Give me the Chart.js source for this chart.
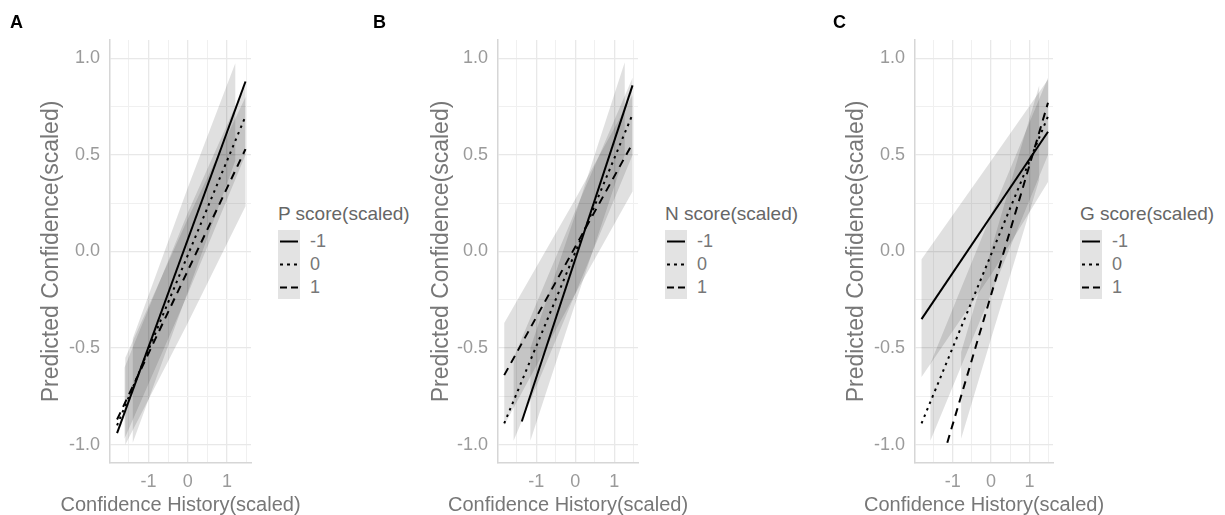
<!DOCTYPE html>
<html>
<head>
<meta charset="utf-8">
<title>Predicted confidence by score</title>
<script src="https://cdn.jsdelivr.net/npm/chart.js@4.4.1/dist/chart.umd.min.js"></script>
<style>
  body { margin: 0; background: #fff; font-family: "Liberation Sans", Arial, sans-serif; }
  #wrap { position: relative; width: 1225px; height: 515px; overflow: hidden; }
  .panel { position: absolute; top: 0; }
  .tag { position: absolute; top: 13px; font-size: 18px; line-height: 18px; font-weight: bold; color: #000; }
  .xt { position: absolute; top: 493px; width: 320px; text-align: center; font-size: 20px; line-height: 22px; color: #777; white-space: nowrap; }
  .legend { position: absolute; top: 203px; }
  .legend .ttl { font-size: 19px; line-height: 22px; color: #666; white-space: nowrap; }
  .legend .keys { margin-top: 5px; }
  .key { display: flex; align-items: center; height: 23px; }
  .key svg { display: block; background: #e3e3e3; }
  .key span { margin-left: 10px; font-size: 18px; color: #777; }
</style>
</head>
<body>
<div id="wrap"></div>
<script>
// axes
const xTicks = [-1.5, -1, -0.5, 0, 0.5, 1, 1.5];
const xLabels = [-1, 0, 1];
const yTicks = [-1, -0.75, -0.5, -0.25, 0, 0.25, 0.5, 0.75, 1];
const yLabels = [-1, -0.5, 0, 0.5, 1];
const xTitle = 'Confidence History(scaled)';
const yTitle = 'Predicted Confidence(scaled)';
const panelTags = ['A', 'B', 'C'];
const legendTitles = ['P score(scaled)', 'N score(scaled)', 'G score(scaled)'];
const levels = ['-1', '0', '1'];

// fitted lines per level (-1, 0, 1): x start/end, y start/end
const lineXA = [[-1.8, 1.47], [-1.8, 1.47], [-1.8, 1.47]];
const lineYA = [[-0.94, 0.88], [-0.90, 0.70], [-0.87, 0.53]];
const lineXB = [[-1.37, 1.47], [-1.82, 1.47], [-1.82, 1.47]];
const lineYB = [[-0.88, 0.86], [-0.89, 0.71], [-0.64, 0.56]];
const lineXC = [[-1.81, 1.48], [-1.81, 1.48], [-1.14, 1.48]];
const lineYC = [[-0.35, 0.62], [-0.89, 0.70], [-0.99, 0.77]];

// confidence ribbons per level: x, lower, upper (cut where they leave -1..1)
const bandXA = [[-1.40, 0, 1.21], [-1.61, 0, 1.47], [-1.59, 0, 1.47]];
const bandLoA = [[-0.99, -0.21, 0.47], [-0.97, -0.22, 0.50], [-1.0, -0.37, 0.234]];
const bandHiA = [[-0.45, 0.33, 0.975], [-0.60, 0.20, 0.87], [-0.55, 0.17, 0.80]];
const bandXB = [[-1.15, 0, 1.27], [-1.58, 0, 1.47], [-1.82, 0, 1.47]];
const bandLoB = [[-0.98, -0.27, 0.50], [-0.98, -0.22, 0.50], [-0.90, -0.22, 0.31]];
const bandHiB = [[-0.50, 0.19, 0.98], [-0.55, 0.21, 0.90], [-0.37, 0.27, 0.81]];
const bandXC = [[-1.81, 0, 1.48], [-1.58, 0, 1.48], [-0.78, 0, 1.25]];
const bandLoC = [[-0.65, -0.12, 0.36], [-0.98, -0.22, 0.50], [-0.97, -0.45, 0.37]];
const bandHiC = [[-0.04, 0.47, 0.89], [-0.58, 0.19, 0.90], [-0.52, 0.01, 0.86]];

const dashes = [[], [2.5, 4.5], [8, 6]];
const keyDashes = ['', '3 4', '7 4'];

const panels = [
  { left: 0, yW: 110, padR: 9, legendLeft: 278, tagLeft: 10, lx: lineXA, ly: lineYA, bx: bandXA, lo: bandLoA, hi: bandHiA },
  { left: 390, yW: 108, padR: 12, legendLeft: 665, tagLeft: 373, lx: lineXB, ly: lineYB, bx: bandXB, lo: bandLoB, hi: bandHiB },
  { left: 805, yW: 110, padR: 12, legendLeft: 1080, tagLeft: 833, lx: lineXC, ly: lineYC, bx: bandXC, lo: bandLoC, hi: bandHiC }
];

const wrap = document.getElementById('wrap');
const tickFont = { family: 'Liberation Sans', size: 18 };

panels.forEach((p, i) => {
  const cv = document.createElement('canvas');
  cv.className = 'panel';
  cv.width = 260;
  cv.height = 515;
  cv.style.left = p.left + 'px';
  wrap.appendChild(cv);

  const tag = document.createElement('div');
  tag.className = 'tag';
  tag.style.left = p.tagLeft + 'px';
  tag.textContent = panelTags[i];
  wrap.appendChild(tag);

  // x axis title centred under the plot area
  const plotMid = p.left + p.yW + (260 - p.yW - p.padR) / 2;
  const xt = document.createElement('div');
  xt.className = 'xt';
  xt.style.left = (plotMid - 160) + 'px';
  xt.textContent = xTitle;
  wrap.appendChild(xt);

  const lg = document.createElement('div');
  lg.className = 'legend';
  lg.style.left = p.legendLeft + 'px';
  let html = '<div class="ttl">' + legendTitles[i] + '</div><div class="keys">';
  levels.forEach((lv, k) => {
    html += '<div class="key"><svg width="22" height="23"><line x1="2" y1="11.5" x2="20" y2="11.5" stroke="#000" stroke-width="2"' +
      (keyDashes[k] ? ' stroke-dasharray="' + keyDashes[k] + '"' : '') + '/></svg><span>' + lv + '</span></div>';
  });
  lg.innerHTML = html + '</div>';
  wrap.appendChild(lg);

  const datasets = [];
  // lines first so they draw on top
  levels.forEach((lv, k) => {
    datasets.push({
      label: lv,
      data: p.lx[k].map((x, j) => ({ x: x, y: p.ly[k][j] })),
      borderColor: '#000',
      borderWidth: 2,
      borderDash: dashes[k],
      fill: false,
      pointRadius: 0
    });
  });
  levels.forEach((lv, k) => {
    const up = p.bx[k].map((x, j) => ({ x: x, y: p.hi[k][j] }));
    const dn = p.bx[k].map((x, j) => ({ x: x, y: p.lo[k][j] })).reverse();
    datasets.push({
      label: 'ci ' + lv,
      data: up.concat(dn),
      borderColor: 'rgba(0,0,0,0)',
      borderWidth: 0,
      backgroundColor: 'rgba(0,0,0,0.12)',
      fill: 'shape',
      pointRadius: 0
    });
  });

  new Chart(cv, {
    type: 'line',
    data: { datasets: datasets },
    options: {
      responsive: false,
      animation: false,
      layout: { padding: { left: 0, right: p.padR, top: 40, bottom: 0 } },
      plugins: { legend: { display: false }, tooltip: { enabled: false } },
      scales: {
        x: {
          type: 'linear',
          min: -1.98,
          max: 1.61,
          afterBuildTicks: s => { s.ticks = xTicks.map(v => ({ value: v })); },
          afterFit: s => { s.height = 52; },
          ticks: {
            autoSkip: false, maxRotation: 0, minRotation: 0, padding: 8,
            color: '#9a9a9a', font: tickFont,
            callback: v => xLabels.includes(v) ? String(v) : ''
          },
          grid: {
            drawTicks: false,
            color: c => xLabels.includes(c.tick.value) ? '#e8e8e8' : '#f0f0f0',
            lineWidth: c => xLabels.includes(c.tick.value) ? 1.3 : 1
          },
          border: { display: true, color: '#d6d6d6', width: 1.5 }
        },
        y: {
          type: 'linear',
          min: -1.095,
          max: 1.095,
          afterBuildTicks: s => { s.ticks = yTicks.map(v => ({ value: v })); },
          afterFit: s => { s.width = p.yW; },
          ticks: {
            autoSkip: false, padding: 10,
            color: '#9a9a9a', font: tickFont,
            callback: v => yLabels.includes(v) ? v.toFixed(1) : ''
          },
          grid: {
            drawTicks: false,
            color: c => yLabels.includes(c.tick.value) ? '#e8e8e8' : '#f0f0f0',
            lineWidth: c => yLabels.includes(c.tick.value) ? 1.3 : 1
          },
          border: { display: true, color: '#d6d6d6', width: 1.5 },
          title: {
            display: true, text: yTitle, color: '#777',
            font: { family: 'Liberation Sans', size: 23 },
            padding: { top: 38, bottom: 0 }
          }
        }
      }
    }
  });
});
</script>
</body>
</html>
